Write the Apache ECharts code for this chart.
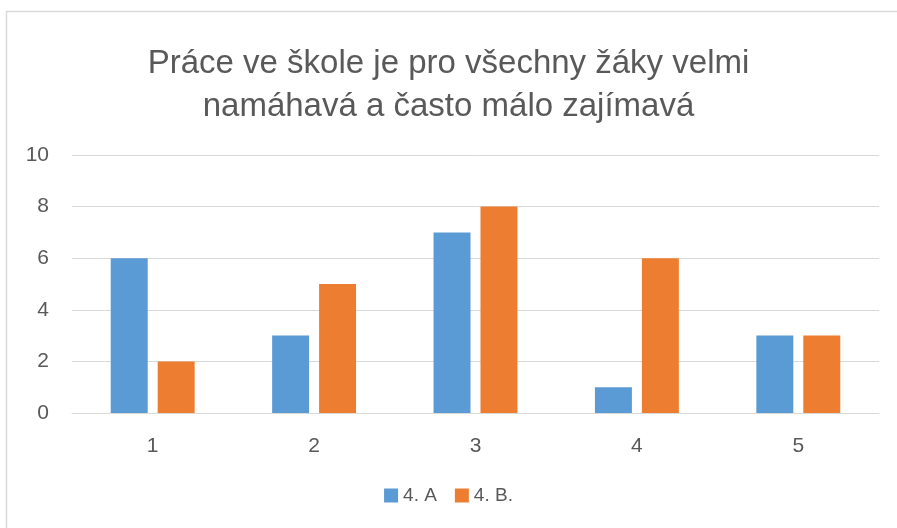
<!DOCTYPE html>
<html>
<head>
<meta charset="utf-8">
<script src="https://cdn.jsdelivr.net/npm/echarts@6/dist/echarts.min.js"></script>
<style>
  html, body { margin: 0; padding: 0; background: #fff; }
  #chart { width: 897px; height: 528px; }
</style>
</head>
<body>
<div id="chart"></div>
<script>
const categories = ['1', '2', '3', '4', '5'];
const seriesNames = ['4. A', '4. B.'];
const valuesA = [6, 3, 7, 1, 3];
const valuesB = [2, 5, 8, 6, 3];
const titleText = 'Práce ve škole je pro všechny žáky velmi\nnamáhavá a často málo zajímavá';

const FONT = 'Liberation Sans, sans-serif';
const TEXT = '#595959';

const chart = echarts.init(document.getElementById('chart'));

chart.setOption({
  animation: false,
  backgroundColor: '#fff',
  title: {
    text: titleText,
    left: 'center',
    top: 37,
    textStyle: {
      fontFamily: FONT,
      fontSize: 33,
      fontWeight: 'normal',
      color: TEXT,
      lineHeight: 43,
    },
  },
  graphic: [
    {
      type: 'rect',
      shape: { x: 6.5, y: 11.5, width: 900, height: 530 },
      style: { fill: 'none', stroke: '#d9d9d9', lineWidth: 1.5 },
      silent: true,
    },
  ],
  legend: {
    bottom: 18,
    left: 'center',
    itemWidth: 14,
    itemHeight: 14,
    itemGap: 18,
    icon: 'rect',
    textStyle: { fontFamily: FONT, fontSize: 19, color: TEXT },
    data: seriesNames,
  },
  grid: {
    left: 72,
    right: 18,
    top: 155,
    bottom: 115,
  },
  xAxis: {
    type: 'category',
    data: categories,
    axisTick: { show: false },
    axisLine: { lineStyle: { color: '#d9d9d9', width: 1 } },
    axisLabel: { fontFamily: FONT, fontSize: 21, color: TEXT, margin: 23 },
  },
  yAxis: {
    type: 'value',
    min: 0,
    max: 10,
    interval: 2,
    axisLine: { show: false },
    axisTick: { show: false },
    splitLine: { lineStyle: { color: '#d9d9d9', width: 1 } },
    axisLabel: { fontFamily: FONT, fontSize: 21, color: TEXT, margin: 23 },
  },
  series: [
    {
      name: seriesNames[0],
      type: 'bar',
      data: valuesA,
      barGap: '27%',
      barCategoryGap: '48%',
      itemStyle: { color: '#5b9bd5' },
    },
    {
      name: seriesNames[1],
      type: 'bar',
      data: valuesB,
      barGap: '27%',
      barCategoryGap: '48%',
      itemStyle: { color: '#ed7d31' },
    },
  ],
});
</script>
</body>
</html>
